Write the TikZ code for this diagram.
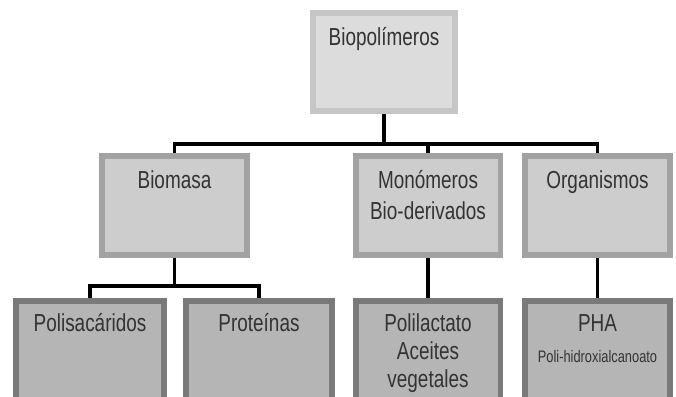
\documentclass[tikz,border=0pt]{standalone}
\usepackage{fontspec}
\newfontfamily\boxfont[FakeStretch=0.77]{Liberation Sans}
\definecolor{BPtopedge}{HTML}{C6C6C6}
\definecolor{BPtopfill}{HTML}{DCDCDC}
\definecolor{BPmidedge}{HTML}{A2A2A2}
\definecolor{BPmidfill}{HTML}{CDCDCD}
\definecolor{BPlowedge}{HTML}{7A7A7A}
\definecolor{BPlowfill}{HTML}{B5B5B5}
\usetikzlibrary{calc,positioning,backgrounds}

\tikzset{
  box/.style={draw, line width=3.4pt, inner sep=0pt, align=center,
    text height=0.65cm, text=black!80,
    font=\boxfont\fontsize{14}{17.6}\selectfont},
  topbox/.style={box, draw=BPtopedge, fill=BPtopfill, text width=2.84cm, text depth=1.31cm},
  midbox/.style={box, draw=BPmidedge, fill=BPmidfill, text width=2.9cm, text depth=1.33cm},
  lowbox/.style={box, draw=BPlowedge, fill=BPlowfill, text width=2.9cm, text height=0.61cm, text depth=1.47cm},
  link/.style={line width=2pt, black}
}

\begin{document}
\begin{tikzpicture}[x=0.02cm, y=-0.02cm]
  \path[use as bounding box, clip] (0,0) rectangle (676,396);
  % niveles
  \node[topbox] (bio) at (384,62) {Biopolímeros};
  \node[midbox] (biomasa) at (174.5,205.5) {Biomasa};
  \node[midbox] (monomeros) at (428,205.5) {Monómeros\\Bio-derivados};
  \node[midbox] (organismos) at (597.5,205.5) {Organismos};
  \node[lowbox, text width=2.96cm] (polisac) at (90,353) {Polisacáridos};
  \node[lowbox, text width=2.92cm] (proteinas) at (259,353) {Proteínas};
  \node[lowbox, font=\boxfont\fontsize{14}{15.8}\selectfont] (polilac) at (428,353) {Polilactato\\Aceites\\vegetales};
  \node[lowbox] (pha) at (597.5,353) {PHA\\\fontsize{9.5}{14.2}\selectfont Poli-hidroxialcanoato};
  % conectores
  \coordinate (topbus) at (384,144);
  \coordinate (lowbus) at (174.5,286);
  \begin{scope}[on background layer]
    \draw[link] (bio.south) -- (topbus);
    \draw[link] (topbus) -| (biomasa.north);
    \draw[link] (topbus) -| (monomeros.north);
    \draw[link] (topbus) -| (organismos.north);
    \draw[link] (biomasa.south) -- (lowbus) -| (polisac.north);
    \draw[link] (lowbus) -| (proteinas.north);
    \draw[link] (monomeros.south) -- (polilac.north);
    \draw[link] (organismos.south) -- (pha.north);
  \end{scope}
\end{tikzpicture}
\end{document}
